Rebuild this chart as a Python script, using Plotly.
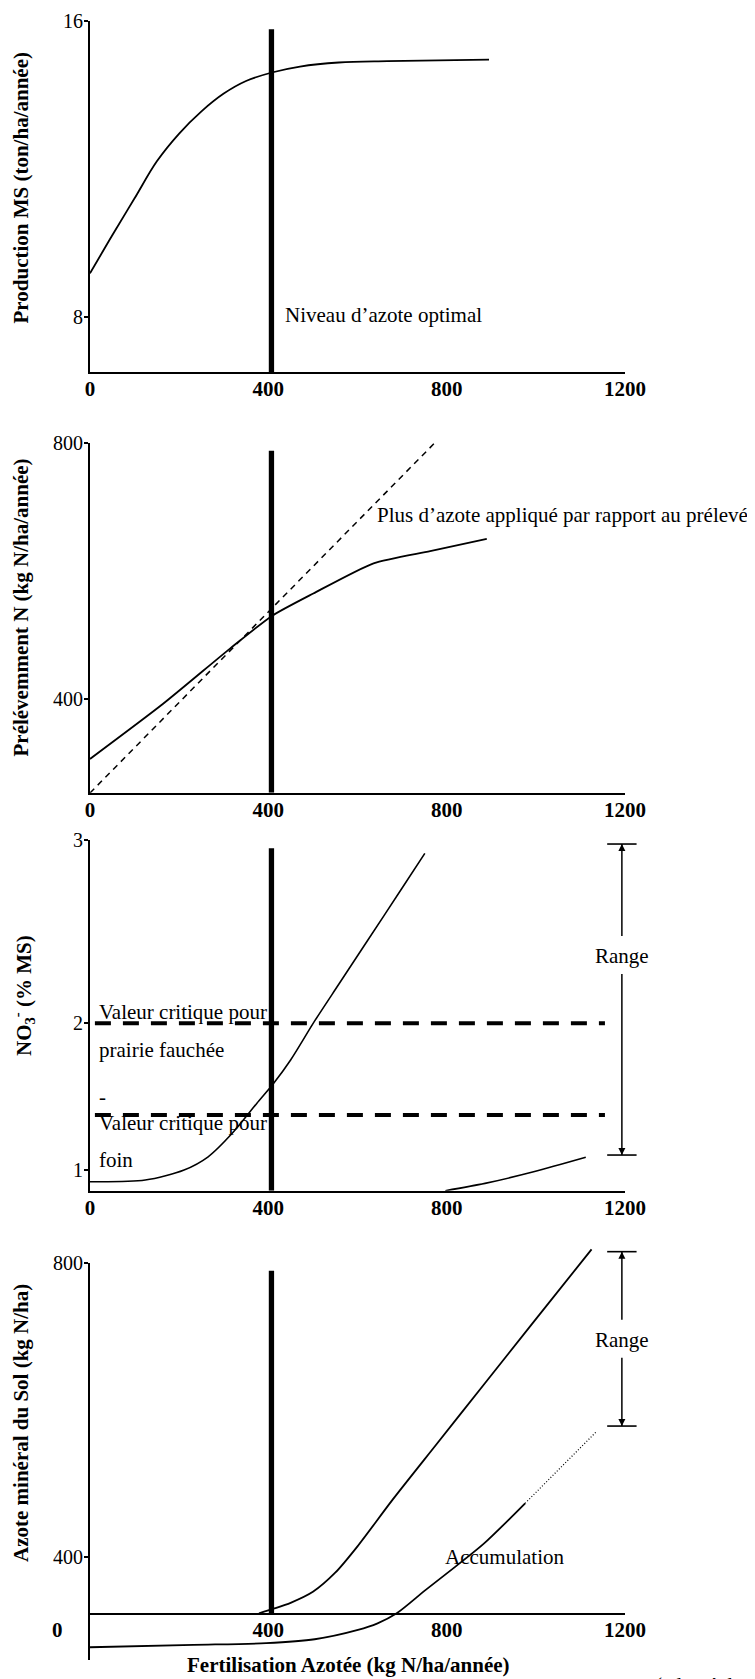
import plotly.graph_objects as go

# The page body has an 8 px margin: the figure is drawn at (8, 8)
OFF = 8
W, H = 755 - OFF, 1679 - OFF
FONT = "Liberation Serif"

# ---------------- data ----------------
x_ticks = [0, 400, 800, 1200]
x_ticktext = ["0", "400", "800", "1200"]
x4_ticks = [400, 800, 1200]
x4_ticktext = ["400", "800", "1200"]
n_opt = 407  # niveau d'azote optimal

# Panel 1 : Production MS
p1_x = [0, 50, 100, 150, 200, 250, 300, 350, 408, 471, 558, 667, 895]
p1_y = [9.17, 10.2, 11.2, 12.2, 12.95, 13.55, 14.03, 14.37, 14.6, 14.76, 14.87, 14.91, 14.95]
p1_ticks = [8, 16]
p1_range = [6.505, 16]
p1_bar_top = 15.77

# Panel 2 : Prélèvement N
p2_x = [0, 164, 314, 408, 501, 636, 763, 890]
p2_y = [307, 393, 479, 530, 565, 612, 631, 650]
p2_dash_x = [0, 785]
p2_dash_y = [254, 808]
p2_ticks = [400, 800]
p2_range = [254.4, 800]
p2_bar_top = 787.5

# Panel 3 : NO3
p3a_x = [0, 124, 211, 265, 319, 374, 412, 450, 504, 558, 623, 699, 751]
p3a_y = [1.136, 1.145, 1.20, 1.272, 1.40, 1.563, 1.673, 1.80, 2.013, 2.213, 2.453, 2.734, 2.927]
p3b_x = [797, 886, 995, 1112]
p3b_y = [1.087, 1.127, 1.19, 1.269]
p3_crit_x = [11, 1155]
p3_crit_fauche = 2.0
p3_crit_foin = 1.5
p3_tickvals = [1.2, 2, 3]
p3_ticktext = ["1", "2", "3"]
p3_range = [1.087, 3]
p3_bar_top = 2.955
p3_range_arrow = [1.2815, 2.978]   # bottom, top
p3_range_gap = [2.269, 2.476]
p3_range_label = 2.367

# Panel 4 : Azote minéral du sol
p4u_x = [379, 412, 450, 500, 550, 600, 678, 775, 884, 992, 1125]
p4u_y = [322.7, 329, 337, 352, 378, 414, 477, 551.5, 635, 717.6, 819]
p4l_x = [0, 232, 395, 504, 601, 645, 688, 753, 819, 884, 976]
p4l_y = [276.4, 279.6, 282, 287.3, 300, 309, 322.7, 354.6, 386, 418, 472.7]
p4d_x = [976, 1136]
p4d_y = [472.7, 570.5]
p4_ticks = [400, 800]
p4_axis_y = 321.9
p4_range = [259, 800]
p4_range_ext = [259, 820.8]
p4_bar_top = 790
p4_range_arrow = [578, 815.8]
p4_range_gap = [671, 722.8]
p4_range_label = 695.4

range_x = 1193

# ---------------- helpers ----------------
def fx(p):
    return (p - OFF) / W

def fy(p):
    return 1 - (p - OFF) / H

XDOM = [fx(90), fx(625)]

fig = go.Figure()

line_kw = dict(color="black", width=1.8)
bar_kw = dict(color="black", width=5.3)


def add(x, y, xa, ya, line, shape="spline", smoothing=0.8):
    ln = dict(line)
    ln["shape"] = shape
    if shape == "spline":
        ln["smoothing"] = smoothing
    fig.add_trace(go.Scatter(x=x, y=y, xaxis=xa, yaxis=ya, mode="lines", line=ln,
                             hoverinfo="skip"))


def range_arrow(xa, ya, arrow, gap):
    # shaft (broken around the label)
    fig.add_trace(go.Scatter(x=[range_x, range_x, None, range_x, range_x],
                             y=[arrow[1], gap[1], None, gap[0], arrow[0]],
                             xaxis=xa, yaxis=ya, mode="lines",
                             line=dict(color="black", width=1.5), hoverinfo="skip"))
    # end caps
    fig.add_trace(go.Scatter(x=[range_x, range_x], y=arrow, xaxis=xa, yaxis=ya, mode="markers",
                             marker=dict(symbol="line-ew", size=21,
                                         line=dict(color="black", width=1.6)),
                             cliponaxis=False, hoverinfo="skip"))
    # arrow heads
    fig.add_trace(go.Scatter(x=[range_x, range_x], y=[arrow[1], arrow[0]], xaxis=xa, yaxis=ya,
                             mode="markers",
                             marker=dict(symbol=["arrow-up", "arrow-down"], size=7, color="black",
                                         line=dict(width=0)),
                             cliponaxis=False, hoverinfo="skip"))


# Panel 1
add(p1_x, p1_y, "x", "y", line_kw, smoothing=1.0)
add([n_opt, n_opt], [p1_range[0], p1_bar_top], "x", "y", bar_kw, shape="linear")
# Panel 2
add(p2_x, p2_y, "x2", "y2", line_kw, smoothing=0.6)
add(p2_dash_x, p2_dash_y, "x2", "y2", dict(color="black", width=1.5, dash="6px,5px"), shape="linear")
add([n_opt, n_opt], [p2_range[0], p2_bar_top], "x2", "y2", bar_kw, shape="linear")
# Panel 3
add(p3a_x, p3a_y, "x3", "y3", dict(color="black", width=1.6))
add(p3b_x, p3b_y, "x3", "y3", dict(color="black", width=1.6))
for v in (p3_crit_fauche, p3_crit_foin):
    add(p3_crit_x, [v, v], "x3", "y3", dict(color="black", width=4, dash="16px,12px"), shape="linear")
add([n_opt, n_opt], [p3_range[0], p3_bar_top], "x3", "y3", bar_kw, shape="linear")
range_arrow("x3", "y3", p3_range_arrow, p3_range_gap)
# Panel 4
add(p4u_x, p4u_y, "x4", "y4", line_kw, smoothing=0.7)
add(p4l_x, p4l_y, "x4", "y4", line_kw)
add(p4d_x, p4d_y, "x4", "y4", dict(color="black", width=1.2, dash="1px,2px"), shape="linear")
add([n_opt, n_opt], [p4_axis_y, p4_bar_top], "x4", "y5", bar_kw, shape="linear")
range_arrow("x4", "y4", p4_range_arrow, p4_range_gap)

xtickfont = dict(family=FONT, size=21, color="black", weight="bold")
ytickfont = dict(family=FONT, size=20, color="black")

common_x = dict(domain=XDOM, range=[0, 1200], showline=True, linewidth=2, linecolor="black",
                ticks="", showgrid=False, zeroline=False, tickfont=xtickfont,
                ticklabelstandoff=-3, fixedrange=True, automargin=False)
common_y = dict(showline=True, linewidth=2, linecolor="black", ticks="outside", ticklen=4,
                tickwidth=1.5, tickcolor="black", showgrid=False, zeroline=False,
                tickfont=ytickfont, ticklabelstandoff=-3, fixedrange=True, automargin=False)

fig.update_layout(
    xaxis=dict(anchor="y", tickvals=x_ticks, ticktext=x_ticktext, **common_x),
    yaxis=dict(anchor="x", domain=[fy(372), fy(20.7)], range=p1_range, tickvals=p1_ticks, **common_y),
    xaxis2=dict(anchor="y2", tickvals=x_ticks, ticktext=x_ticktext, **common_x),
    yaxis2=dict(anchor="x2", domain=[fy(792.7), fy(442.7)], range=p2_range, tickvals=p2_ticks, **common_y),
    xaxis3=dict(anchor="y3", tickvals=x_ticks, ticktext=x_ticktext, **common_x),
    yaxis3=dict(anchor="x3", domain=[fy(1190.7), fy(840)], range=p3_range, tickvals=p3_tickvals,
                ticktext=p3_ticktext, **common_y),
    xaxis4=dict(anchor="free", position=fy(1614), tickvals=x4_ticks, ticktext=x4_ticktext, **common_x),
    yaxis4=dict(anchor="x4", domain=[fy(1660), fy(1248)], range=p4_range_ext, showline=False,
                showticklabels=False, ticks="", showgrid=False, zeroline=False, fixedrange=True,
                automargin=False),
    yaxis5=dict(anchor="x4", domain=[fy(1660), fy(1263.3)], range=p4_range, tickvals=p4_ticks, **common_y),
)

ann = []
tfont = dict(family=FONT, size=21, color="black")
bfont = dict(family=FONT, size=21, color="black", weight="bold")

# axis titles
for txt, xpx, ypx in [("Production MS (ton/ha/année)", 21, 188.5),
                      ("Prélévemment N (kg N/ha/année)", 21, 607.5),
                      ("NO<sub>3</sub><sup>-</sup> (% MS)", 24, 996),
                      ("Azote minéral du Sol (kg N/ha)", 21, 1423)]:
    ann.append(dict(text=txt, x=fx(xpx), y=fy(ypx), xref="paper", yref="paper", showarrow=False,
                    textangle=-90, font=bfont, xanchor="center", yanchor="middle"))
ann.append(dict(text="Fertilisation Azotée (kg N/ha/année)", x=fx(348), y=fy(1665), xref="paper",
                yref="paper", showarrow=False, font=bfont, xanchor="center", yanchor="middle"))
ann.append(dict(text="(adapté de", x=fx(653), y=fy(1671), xref="paper", yref="paper",
                showarrow=False, font=tfont, xanchor="left", yanchor="top"))
# origin label of the bottom axis, set left of the vertical axis as in the original
ann.append(dict(text="0", x=0, y=p4_axis_y, xref="x4", yref="y4", showarrow=False,
                font=xtickfont, xanchor="center", yanchor="top", xshift=-33, yshift=-2))

# in-plot labels
ann.append(dict(text="Niveau d’azote optimal", x=433, y=8.05, xref="x", yref="y", showarrow=False,
                font=tfont, xanchor="left", yanchor="middle"))
ann.append(dict(text="Plus d’azote appliqué par rapport au prélevé", x=639, y=687, xref="x2", yref="y2",
                showarrow=False, font=tfont, xanchor="left", yanchor="middle"))
for txt, yv in [("Valeur critique pour", 2.062), ("prairie fauchée", 1.855), ("-", 1.60),
                ("Valeur critique pour", 1.455), ("foin", 1.254)]:
    ann.append(dict(text=txt, x=15, y=yv, xref="x3", yref="y3", showarrow=False, font=tfont,
                    xanchor="left", yanchor="middle"))
ann.append(dict(text="Accumulation", x=929, y=400, xref="x4", yref="y5", showarrow=False,
                font=tfont, xanchor="center", yanchor="middle"))
ann.append(dict(text="Range", x=range_x, y=p3_range_label, xref="x3", yref="y3", showarrow=False,
                font=tfont, xanchor="center", yanchor="middle"))
ann.append(dict(text="Range", x=range_x, y=p4_range_label, xref="x4", yref="y4", showarrow=False,
                font=tfont, xanchor="center", yanchor="middle"))

fig.update_layout(width=W, height=H, margin=dict(l=0, r=0, t=0, b=0, autoexpand=False),
                  showlegend=False, plot_bgcolor="rgba(0,0,0,0)", paper_bgcolor="white",
                  annotations=ann)

fig.write_html("out.html")
